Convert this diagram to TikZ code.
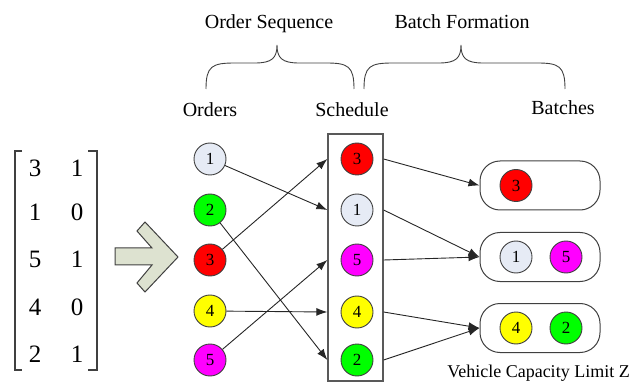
\documentclass[tikz,border=0pt]{standalone}
\usepackage{fontspec}
\setmainfont{Liberation Serif}
\usetikzlibrary{arrows.meta}
\definecolor{cone}{HTML}{E6EBF5}
\definecolor{ctwo}{HTML}{00FF00}
\definecolor{cthree}{HTML}{FF0000}
\definecolor{cfour}{HTML}{FFFF00}
\definecolor{cfive}{HTML}{FF00FF}
\definecolor{arrowfill}{HTML}{DDE2D0}
\definecolor{linegray}{HTML}{404040}
\begin{document}
\begin{tikzpicture}[x=1pt,y=-1pt,
  ball/.style={circle,draw=linegray,line width=0.9pt,minimum size=32pt,inner sep=0pt,font=\fontsize{17}{17}\selectfont},
  lbl/.style={font=\fontsize{20}{24}\selectfont,anchor=base,inner sep=0pt},
  conn/.style={draw=black!85,line width=0.9pt,-{Latex[length=11pt,width=8pt]}},
  batch/.style={draw=linegray,line width=1pt,rounded corners=20pt,minimum width=120pt,minimum height=49pt,inner sep=0pt},
  matnum/.style={font=\fontsize{25}{25}\selectfont,anchor=base,inner sep=0pt},
  brc/.style={draw=linegray,line width=0.9pt}]
\useasboundingbox (0,0) rectangle (632,382);

% top labels
\node[lbl] (tos) at (269,29) {Order Sequence};
\node[lbl] (tbf) at (462,29) {Batch Formation};
\node[lbl] (tord) at (210,117) {Orders};
\node[lbl] (tsch) at (352,117) {Schedule};
\node[lbl] (tbat) at (563,115) {Batches};

% braces
\draw[brc] (206,89) .. controls (206,66) and (212,63) .. (235,63) -- (255,63)
  .. controls (272,63) and (277,58) .. (277,45)
  .. controls (277,58) and (282,63) .. (299,63) -- (326,63)
  .. controls (348,63) and (354,66) .. (354,89);
\draw[brc] (364,89) .. controls (364,66) and (370,63) .. (393,63) -- (439,63)
  .. controls (456,63) and (461,58) .. (461,45)
  .. controls (461,58) and (466,63) .. (483,63) -- (537,63)
  .. controls (559,63) and (565,66) .. (565,89);

% matrix
\draw[line width=1.1pt,draw=linegray] (22,151) -- (15,151) -- (15,370) -- (22,370);
\draw[line width=1.1pt,draw=linegray] (88,151) -- (97,151) -- (97,370) -- (88,370);
\node[matnum] (m11) at (35,177) {3}; \node[matnum] (m12) at (77,177) {1};
\node[matnum] (m21) at (35,221) {1}; \node[matnum] (m22) at (77,221) {0};
\node[matnum] (m31) at (35,268) {5}; \node[matnum] (m32) at (77,268) {1};
\node[matnum] (m41) at (35,315) {4}; \node[matnum] (m42) at (77,315) {0};
\node[matnum] (m51) at (35,362) {2}; \node[matnum] (m52) at (77,362) {1};

% big arrow
\draw[draw=linegray,fill=arrowfill,line width=1pt,line join=miter]
  (115,248) -- (152,248) -- (137,231) -- (145,222) -- (178,257) -- (145,292)
  -- (137,283) -- (152,265) -- (115,265) -- cycle;

% orders
\node[ball,fill=cone]   (o1) at (210,159) {1};
\node[ball,fill=ctwo]   (o2) at (210,210) {2};
\node[ball,fill=cthree] (o3) at (210,260) {3};
\node[ball,fill=cfour]  (o4) at (210,311) {4};
\node[ball,fill=cfive]  (o5) at (210,360) {5};

% schedule box
\node[draw=black!65,line width=1.3pt,minimum width=55pt,minimum height=247pt,inner sep=0pt] (sched) at (355.5,257.5) {};
\node[ball,fill=cthree] (s1) at (357,159) {3};
\node[ball,fill=cone]   (s2) at (357,210) {1};
\node[ball,fill=cfive]  (s3) at (357,260) {5};
\node[ball,fill=cfour]  (s4) at (357,312) {4};
\node[ball,fill=ctwo]   (s5) at (357,360) {2};

% batches
\node[batch] (b1) at (540,185.5) {};
\node[batch] (b2) at (540,257) {};
\node[batch] (b3) at (540,328) {};
\node[ball,fill=cthree] (b1a) at (516,185.5) {3};
\node[ball,fill=cone]   (b2a) at (516,257) {1};
\node[ball,fill=cfive]  (b2b) at (566,257) {5};
\node[ball,fill=cfour]  (b3a) at (516,328) {4};
\node[ball,fill=ctwo]   (b3b) at (566,328) {2};

% connectors orders -> schedule
\draw[conn] (o1) -- (sched.west |- s2);
\draw[conn] (o2) -- (sched.west |- s5);
\draw[conn] (o3) -- (sched.west |- s1);
\draw[conn] (o4) -- (sched.west |- s4);
\draw[conn] (o5) -- (sched.west |- s3);

% connectors schedule -> batches
\draw[conn] (sched.east |- s1) -- (b1.west);
\draw[conn] (sched.east |- s2) -- (b2.west);
\draw[conn] (sched.east |- s3) -- (b2.west);
\draw[conn] (sched.east |- s4) -- (b3.west);
\draw[conn] (sched.east |- s5) -- (b3.west);

\node[font=\fontsize{18}{20}\selectfont,anchor=base,inner sep=0pt] (cap) at (538.5,377) {Vehicle Capacity Limit Z};
\end{tikzpicture}
\end{document}
